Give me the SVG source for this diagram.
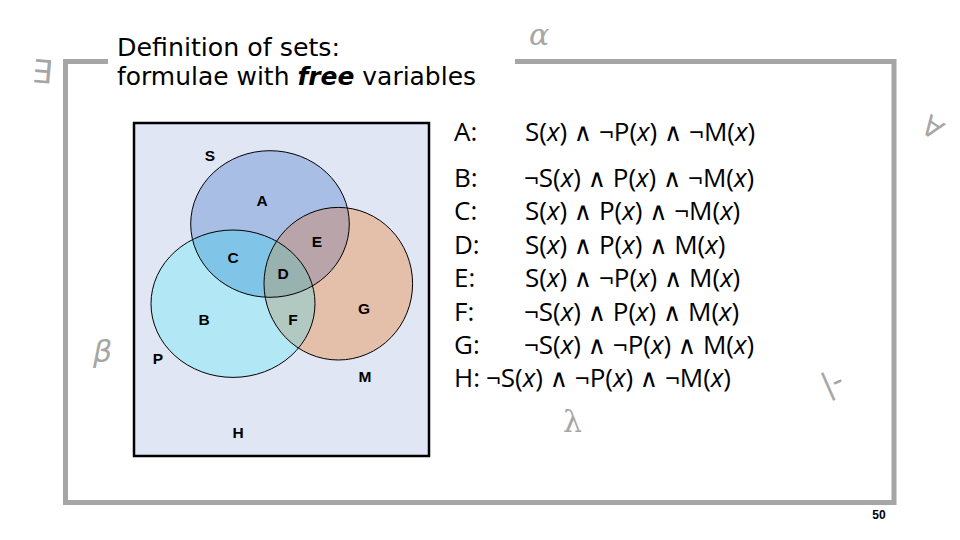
<svg xmlns="http://www.w3.org/2000/svg" width="960" height="540" viewBox="0 0 960 540">
<style>
.frame{fill:none;stroke:#a6a6a6;stroke-width:5}
.title{font-family:"DejaVu Sans",Verdana,sans-serif;font-size:25px;fill:#000}
.lbl{font-family:"Liberation Sans",Arial,sans-serif;font-size:15.5px;font-weight:bold;fill:#000;text-anchor:middle}
.f{font-family:"Open Sans","DejaVu Sans",sans-serif;font-size:26px;fill:#000}
.i{font-style:italic}
.w{font-family:"DejaVu Sans",sans-serif;font-size:25px}
.g{font-family:"DejaVu Sans","Liberation Sans",sans-serif;fill:#a6a6a6}
.gs{font-family:"DejaVu Serif","Liberation Serif",serif;fill:#a6a6a6}
.edge{fill:none;stroke:#000;stroke-width:1}
</style>
<defs>
<clipPath id="cS"><ellipse cx="270" cy="224" rx="79.3" ry="73.3"/></clipPath>
<clipPath id="cP"><ellipse cx="233" cy="303.7" rx="82" ry="73.7"/></clipPath>
</defs>
<rect width="960" height="540" fill="#fff"/>
<path class="frame" d="M108,61.5 H65.5 V502.5 H894 V61.5 H515"/>
<g id="title">
<text class="title" x="117" y="56" textLength="223" lengthAdjust="spacingAndGlyphs">Definition of sets:</text>
<text class="title" x="117" y="85" textLength="359" lengthAdjust="spacingAndGlyphs">formulae with <tspan font-weight="bold" font-style="italic">free</tspan> variables</text>
</g>
<g id="venn">
<rect x="134" y="123" width="295" height="333" fill="#e0e6f4" stroke="#000" stroke-width="2.5"/>
<ellipse cx="270" cy="224" rx="79.3" ry="73.3" fill="#a9bee4"/>
<ellipse cx="233" cy="303.7" rx="82" ry="73.7" fill="#b2e8f6"/>
<ellipse cx="338.3" cy="283.7" rx="74.3" ry="76.3" fill="#e4c0aa"/>
<g clip-path="url(#cS)"><ellipse cx="233" cy="303.7" rx="82" ry="73.7" fill="#80c5e8"/><ellipse cx="338.3" cy="283.7" rx="74.3" ry="76.3" fill="#b9a4aa"/></g>
<g clip-path="url(#cP)"><ellipse cx="338.3" cy="283.7" rx="74.3" ry="76.3" fill="#b1c9c0"/></g>
<g clip-path="url(#cP)"><g clip-path="url(#cS)"><ellipse cx="338.3" cy="283.7" rx="74.3" ry="76.3" fill="#98b2b0"/></g></g>
<ellipse class="edge" cx="270" cy="224" rx="79.3" ry="73.3"/>
<ellipse class="edge" cx="233" cy="303.7" rx="82" ry="73.7"/>
<ellipse class="edge" cx="338.3" cy="283.7" rx="74.3" ry="76.3"/>
<text class="lbl" x="210" y="161">S</text>
<text class="lbl" x="262" y="206">A</text>
<text class="lbl" x="317" y="247">E</text>
<text class="lbl" x="233" y="263">C</text>
<text class="lbl" x="283" y="279">D</text>
<text class="lbl" x="204" y="325">B</text>
<text class="lbl" x="293" y="325">F</text>
<text class="lbl" x="364" y="314">G</text>
<text class="lbl" x="158" y="364">P</text>
<text class="lbl" x="365" y="382">M</text>
<text class="lbl" x="238" y="438">H</text>
</g>
<g id="formulas">
<text class="f" x="454" y="141">A:</text>
<text class="f" x="525" y="141">S(<tspan class="i">x</tspan>) <tspan class="w">∧</tspan> ¬P(<tspan class="i">x</tspan>) <tspan class="w">∧</tspan> ¬M(<tspan class="i">x</tspan>)</text>
<text class="f" x="454" y="187">B:</text>
<text class="f" x="524" y="187">¬S(<tspan class="i">x</tspan>) <tspan class="w">∧</tspan> P(<tspan class="i">x</tspan>) <tspan class="w">∧</tspan> ¬M(<tspan class="i">x</tspan>)</text>
<text class="f" x="454" y="220">C:</text>
<text class="f" x="525" y="220">S(<tspan class="i">x</tspan>) <tspan class="w">∧</tspan> P(<tspan class="i">x</tspan>) <tspan class="w">∧</tspan> ¬M(<tspan class="i">x</tspan>)</text>
<text class="f" x="454" y="254">D:</text>
<text class="f" x="525" y="254">S(<tspan class="i">x</tspan>) <tspan class="w">∧</tspan> P(<tspan class="i">x</tspan>) <tspan class="w">∧</tspan> M(<tspan class="i">x</tspan>)</text>
<text class="f" x="454" y="287">E:</text>
<text class="f" x="525" y="287">S(<tspan class="i">x</tspan>) <tspan class="w">∧</tspan> ¬P(<tspan class="i">x</tspan>) <tspan class="w">∧</tspan> M(<tspan class="i">x</tspan>)</text>
<text class="f" x="454" y="321">F:</text>
<text class="f" x="524" y="321">¬S(<tspan class="i">x</tspan>) <tspan class="w">∧</tspan> P(<tspan class="i">x</tspan>) <tspan class="w">∧</tspan> M(<tspan class="i">x</tspan>)</text>
<text class="f" x="454" y="354">G:</text>
<text class="f" x="524" y="354">¬S(<tspan class="i">x</tspan>) <tspan class="w">∧</tspan> ¬P(<tspan class="i">x</tspan>) <tspan class="w">∧</tspan> M(<tspan class="i">x</tspan>)</text>
<text class="f" x="454" y="387">H:</text>
<text class="f" x="486" y="387">¬S(<tspan class="i">x</tspan>) <tspan class="w">∧</tspan> ¬P(<tspan class="i">x</tspan>) <tspan class="w">∧</tspan> ¬M(<tspan class="i">x</tspan>)</text>
</g>
<g id="symbols">
<text class="gs" font-size="30" font-style="italic" x="529" y="45">α</text>
<text class="g" font-size="30" font-style="italic" x="93" y="362">β</text>
<text class="gs" font-size="30" x="563" y="432">λ</text>
<text class="g" font-size="32" transform="translate(42,72) rotate(5)" text-anchor="middle" dominant-baseline="central">∃</text>
<text class="g" font-size="28" transform="translate(932,128) rotate(35)" text-anchor="middle" dominant-baseline="central">∀</text>
<text class="g" font-size="30" transform="translate(832,382) rotate(-24)" text-anchor="middle" dominant-baseline="central">|-</text>
</g>
<text x="879" y="519" font-family="Liberation Sans,Arial,sans-serif" font-size="12" font-weight="bold" text-anchor="middle">50</text>
</svg>
